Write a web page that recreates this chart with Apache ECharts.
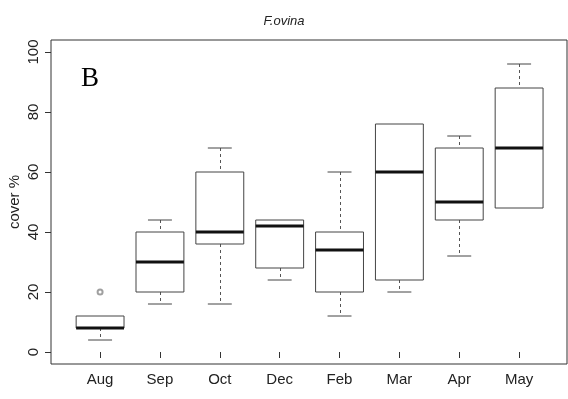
<!DOCTYPE html>
<html>
<head>
<meta charset="utf-8">
<script src="https://cdn.jsdelivr.net/npm/echarts@6/dist/echarts.min.js"></script>
<style>
html,body{margin:0;padding:0;background:#fff;}
#chart{width:568px;height:399px;}
</style>
</head>
<body>
<div id="chart"></div>
<script>
// Data
var categories = ['Aug', 'Sep', 'Oct', 'Dec', 'Feb', 'Mar', 'Apr', 'May'];
var mins    = [4, 16, 16, 24, 12, 20, 32, 48];
var q1s     = [8, 20, 36, 28, 20, 24, 44, 48];
var medians = [8, 30, 40, 42, 34, 60, 50, 68];
var q3s     = [12, 40, 60, 44, 40, 76, 68, 88];
var maxs    = [12, 44, 68, 44, 60, 76, 72, 96];
var outliers = [[1, 20]]; // [category position (1-based), value]
var yTicks = [0, 20, 40, 60, 80, 100];

var positions = categories.map(function (c, i) { return i + 1; });
var boxData = categories.map(function (c, i) {
  return [i + 1, mins[i], q1s[i], medians[i], q3s[i], maxs[i]];
});

var chart = echarts.init(document.getElementById('chart'), null, {renderer: 'canvas'});
var FONT = '"Liberation Sans", Arial, sans-serif';
var BOX_HALF = 0.4, CAP_HALF = 0.2;

function renderBox(params, api) {
  var x = api.value(0);
  var vMin = api.value(1), vQ1 = api.value(2), vMed = api.value(3), vQ3 = api.value(4), vMax = api.value(5);
  var pMin = api.coord([x, vMin]);
  var pQ1 = api.coord([x, vQ1]);
  var pMed = api.coord([x, vMed]);
  var pQ3 = api.coord([x, vQ3]);
  var pMax = api.coord([x, vMax]);
  var left = api.coord([x - BOX_HALF, vQ1])[0];
  var right = api.coord([x + BOX_HALF, vQ1])[0];
  var capL = api.coord([x - CAP_HALF, vQ1])[0];
  var capR = api.coord([x + CAP_HALF, vQ1])[0];
  var cx = Math.round(pMed[0]) + 0.5;
  var children = [];
  var dashStyle = {stroke: '#555', lineWidth: 1, lineDash: [3, 3]};
  var solid = {stroke: '#444', lineWidth: 1, fill: null};
  if (vMax > vQ3) {
    children.push({type: 'line', shape: {x1: cx, y1: pMax[1], x2: cx, y2: pQ3[1]}, style: dashStyle});
    children.push({type: 'line', shape: {x1: capL, y1: pMax[1], x2: capR, y2: pMax[1]}, style: solid});
  }
  if (vMin < vQ1) {
    children.push({type: 'line', shape: {x1: cx, y1: pQ1[1], x2: cx, y2: pMin[1]}, style: dashStyle});
    children.push({type: 'line', shape: {x1: capL, y1: pMin[1], x2: capR, y2: pMin[1]}, style: solid});
  }
  children.push({type: 'rect', shape: {x: left, y: pQ3[1], width: right - left, height: pQ1[1] - pQ3[1]},
    style: {stroke: '#444', lineWidth: 1, fill: '#fff'}});
  children.push({type: 'line', shape: {x1: left, y1: pMed[1], x2: right, y2: pMed[1]},
    style: {stroke: '#111', lineWidth: 3}});
  return {type: 'group', children: children};
}

var option = {
  animation: false,
  backgroundColor: '#fff',
  title: {
    text: 'F.ovina',
    left: 'center',
    top: 10,
    textStyle: {fontFamily: FONT, fontSize: 13, fontStyle: 'italic', fontWeight: 'normal', color: '#222'}
  },
  graphic: [{
    type: 'text',
    left: 81,
    top: 65,
    style: {text: 'B', font: '27px "Liberation Serif", "Times New Roman", serif', fill: '#000'}
  }],
  grid: {
    left: 51, right: 1, top: 40, bottom: 35,
    outerBoundsMode: 'none',
    containLabel: false,
    show: true, borderColor: '#333', borderWidth: 1, backgroundColor: 'transparent'
  },
  xAxis: {
    type: 'value',
    min: 0.18, max: 8.8,
    splitLine: {show: false},
    axisLine: {show: false},
    axisTick: {show: true, customValues: positions, length: 6, lineStyle: {color: '#333'}},
    axisLabel: {
      customValues: positions,
      margin: 8,
      fontFamily: FONT, fontSize: 15, color: '#222',
      formatter: function (v) { return categories[Math.round(v) - 1] || ''; }
    }
  },
  yAxis: {
    type: 'value',
    min: -4, max: 104,
    name: 'cover %',
    nameLocation: 'middle',
    nameGap: 29,
    nameMoveOverlap: false,
    nameTextStyle: {fontFamily: FONT, fontSize: 15, color: '#222'},
    splitLine: {show: false},
    axisLine: {show: false},
    axisTick: {show: true, customValues: yTicks, length: 6, lineStyle: {color: '#333'}},
    axisLabel: {
      customValues: yTicks,
      rotate: 90,
      margin: 10,
      fontFamily: FONT, fontSize: 15, color: '#222'
    }
  },
  series: [
    {
      type: 'custom',
      renderItem: renderBox,
      encode: {x: 0, y: [1, 2, 3, 4, 5]},
      data: boxData,
      clip: false,
      z: 2
    },
    {
      type: 'scatter',
      data: outliers,
      symbol: 'emptyCircle',
      symbolSize: 5,
      z: 3,
      itemStyle: {color: '#888', borderColor: '#888', borderWidth: 1}
    }
  ]
};
chart.setOption(option);
</script>
</body>
</html>
